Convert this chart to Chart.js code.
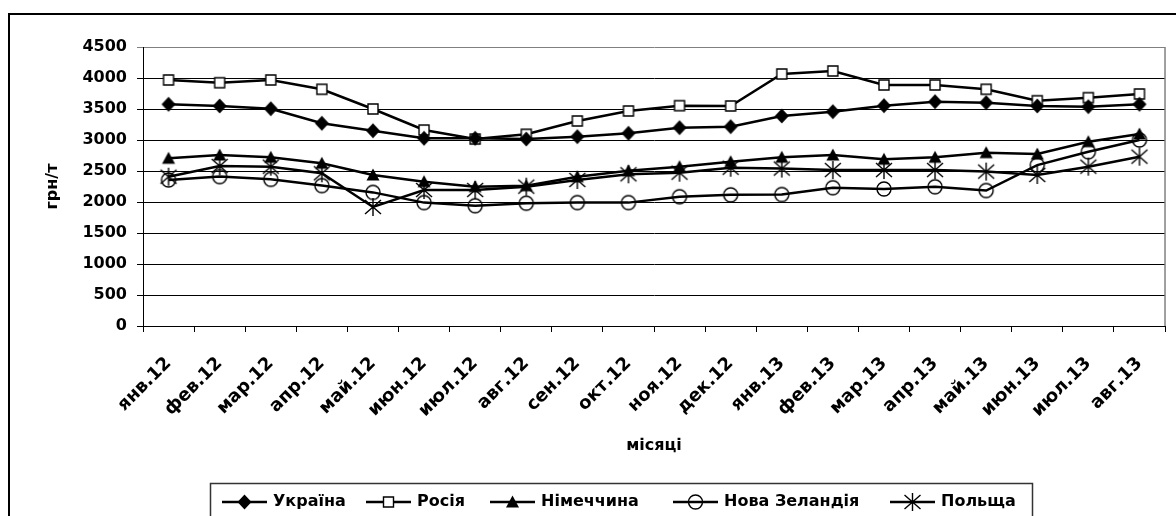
<!DOCTYPE html>
<html>
<head>
<meta charset="utf-8">
<script src="https://cdn.jsdelivr.net/npm/chart.js@4.4.1/dist/chart.umd.min.js"></script>
<style>
  html, body { margin: 0; padding: 0; background: #fff; }
  #wrap { width: 1176px; height: 516px; position: relative; }
</style>
</head>
<body>
<div id="wrap"><canvas id="priceChart" width="1176" height="516"></canvas></div>
<script>
// місяці
const months = ['янв.12', 'фев.12', 'мар.12', 'апр.12', 'май.12', 'июн.12', 'июл.12', 'авг.12', 'сен.12', 'окт.12',
                'ноя.12', 'дек.12', 'янв.13', 'фев.13', 'мар.13', 'апр.13', 'май.13', 'июн.13', 'июл.13', 'авг.13'];

// ціни, грн/т
const ukraine  = [3576, 3549, 3505, 3270, 3150, 3028, 3028, 3016, 3054, 3108, 3199, 3215, 3388, 3457, 3554, 3618, 3602, 3549, 3538, 3576];
const russia   = [3968, 3924, 3968, 3818, 3500, 3161, 3016, 3092, 3307, 3468, 3554, 3549, 4065, 4113, 3888, 3888, 3818, 3634, 3683, 3742];
const germany  = [2705, 2758, 2721, 2624, 2436, 2328, 2247, 2263, 2408, 2505, 2570, 2650, 2721, 2758, 2689, 2721, 2796, 2774, 2973, 3097];
const newZealand = [2355, 2410, 2365, 2265, 2155, 1990, 1940, 1980, 1990, 1990, 2085, 2115, 2120, 2230, 2210, 2245, 2185, 2595, 2810, 3000];
const poland   = [2408, 2581, 2570, 2463, 1920, 2194, 2194, 2247, 2355, 2447, 2473, 2553, 2540, 2516, 2516, 2516, 2490, 2436, 2570, 2731];

const seriesNames = ['Україна', 'Росія', 'Німеччина', 'Нова Зеландія', 'Польща'];
const yTicks = [0, 500, 1000, 1500, 2000, 2500, 3000, 3500, 4000, 4500];

const FONT = 'DejaVu Sans';

// Excel-like markers
function drawMarker(ctx, kind, x, y) {
    ctx.save();
    ctx.strokeStyle = '#000';
    ctx.fillStyle = '#000';
    ctx.lineWidth = 1.4;
    ctx.beginPath();
    if (kind === 'diamond') {
        ctx.moveTo(x, y - 7.5);
        ctx.lineTo(x + 7, y);
        ctx.lineTo(x, y + 7.5);
        ctx.lineTo(x - 7, y);
        ctx.closePath();
        ctx.fill();
    } else if (kind === 'square') {
        ctx.rect(x - 5, y - 5, 10, 10);
        ctx.fillStyle = '#fff';
        ctx.fill();
        ctx.stroke();
    } else if (kind === 'triangle') {
        ctx.moveTo(x, y - 6.5);
        ctx.lineTo(x + 6.5, y + 5.5);
        ctx.lineTo(x - 6.5, y + 5.5);
        ctx.closePath();
        ctx.fill();
    } else if (kind === 'circle') {
        ctx.arc(x, y, 7, 0, Math.PI * 2);
        ctx.stroke();
    } else if (kind === 'star') {
        ctx.moveTo(x - 8, y - 7); ctx.lineTo(x + 8, y + 7);
        ctx.moveTo(x + 8, y - 7); ctx.lineTo(x - 8, y + 7);
        ctx.moveTo(x, y - 9); ctx.lineTo(x, y + 9);
        ctx.stroke();
    }
    ctx.restore();
}

function markerImage(kind) {
    const c = document.createElement('canvas');
    c.width = 22;
    c.height = 22;
    drawMarker(c.getContext('2d'), kind, 11, 11);
    return c;
}

const markerKinds = ['diamond', 'square', 'triangle', 'circle', 'star'];
const seriesData = [ukraine, russia, germany, newZealand, poland];

const datasets = seriesData.map((d, i) => ({
    label: seriesNames[i],
    data: d,
    borderColor: '#000',
    backgroundColor: '#000',
    borderWidth: 2.5,
    pointStyle: markerImage(markerKinds[i]),
    pointRadius: 8,
    tension: 0
}));

// where each legend entry starts (line start)
const legendX = [222, 366, 490, 673, 890];

// frame, plot border and legend like Excel
const excelDecor = {
    id: 'excelDecor',
    afterDraw(chart) {
        const ctx = chart.ctx;
        const area = chart.chartArea;
        ctx.save();
        // outer frame
        ctx.strokeStyle = '#000';
        ctx.lineWidth = 2;
        ctx.strokeRect(9, 14, 1200, 540);
        // right border of plot
        ctx.strokeStyle = '#808080';
        ctx.lineWidth = 1.5;
        ctx.beginPath();
        ctx.moveTo(area.right, area.top);
        ctx.lineTo(area.right, area.bottom);
        ctx.stroke();

        // legend box
        ctx.strokeStyle = '#333';
        ctx.lineWidth = 1.5;
        ctx.strokeRect(210.5, 483.5, 822, 60);
        ctx.font = 'bold 16px ' + FONT;
        ctx.textBaseline = 'middle';
        ctx.textAlign = 'left';
        const y = 502;
        chart.data.datasets.forEach((ds, i) => {
            const x = legendX[i];
            ctx.strokeStyle = '#000';
            ctx.lineWidth = 2.5;
            ctx.beginPath();
            ctx.moveTo(x, y);
            ctx.lineTo(x + 45, y);
            ctx.stroke();
            drawMarker(ctx, markerKinds[i], x + 22.5, y);
            ctx.fillStyle = '#000';
            ctx.fillText(ds.label, x + 51, y);
        });
        ctx.restore();
    }
};

const ctx = document.getElementById('priceChart').getContext('2d');
new Chart(ctx, {
    type: 'line',
    data: { labels: months, datasets: datasets },
    options: {
        responsive: false,
        animation: false,
        devicePixelRatio: 1,
        layout: { padding: { top: 47, right: 3, bottom: 55, left: 0 } },
        plugins: {
            legend: { display: false },
            tooltip: { enabled: false }
        },
        scales: {
            x: {
                offset: true,
                grid: {
                    offset: true,
                    drawOnChartArea: false,
                    drawTicks: true,
                    tickLength: 6,
                    color: '#000'
                },
                border: { display: true, color: '#000', width: 1 },
                ticks: {
                    autoSkip: false,
                    minRotation: 45,
                    maxRotation: 45,
                    padding: 21,
                    color: '#000',
                    font: { family: FONT, size: 18, weight: 'bold' }
                },
                title: {
                    display: true,
                    text: 'місяці',
                    color: '#000',
                    font: { family: FONT, size: 16, weight: 'bold' },
                    padding: { top: 0, bottom: 6 }
                },
                afterFit(scale) { scale.height = 135; }
            },
            y: {
                min: 0,
                max: 4500,
                afterBuildTicks(scale) { scale.ticks = yTicks.map(v => ({ value: v })); },
                grid: {
                    color: c => (c.tick && c.tick.value === 4500) ? '#808080' : '#000',
                    lineWidth: 1,
                    tickLength: 6
                },
                border: { display: true, color: '#000', width: 1 },
                ticks: {
                    padding: 10,
                    color: '#000',
                    font: { family: FONT, size: 16, weight: 'bold' },
                    callback: v => String(v)
                },
                title: {
                    display: true,
                    text: 'грн/т',
                    color: '#000',
                    font: { family: FONT, size: 16, weight: 'bold' },
                    padding: { top: 43, bottom: 0 }
                },
                afterFit(scale) { scale.width = 143; }
            }
        }
    },
    plugins: [excelDecor]
});
</script>
</body>
</html>
